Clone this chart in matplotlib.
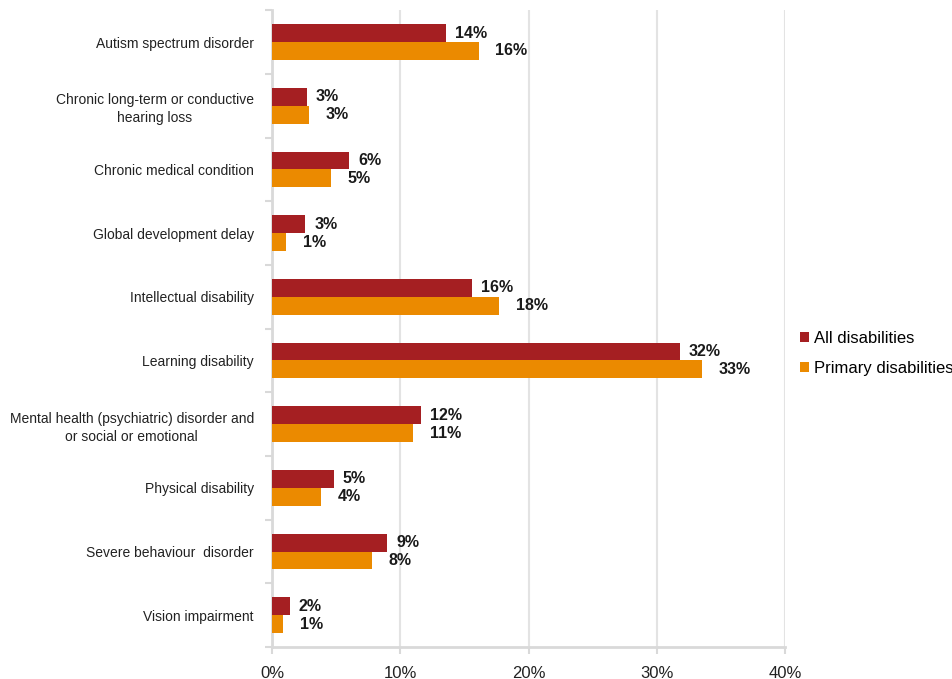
import matplotlib
matplotlib.use("Agg")
import matplotlib.pyplot as plt
import numpy as np

plt.rcParams['font.family'] = ['Liberation Sans', 'DejaVu Sans']

# categories et valeurs (%)
categories = [
    "Autism spectrum disorder",
    "Chronic long-term or conductive\nhearing loss",
    "Chronic medical condition",
    "Global development delay",
    "Intellectual disability",
    "Learning disability",
    "Mental health (psychiatric) disorder and\nor social or emotional",
    "Physical disability",
    "Severe behaviour  disorder",
    "Vision impairment",
]
all_dis = [13.6, 2.7, 6.0, 2.6, 15.6, 31.8, 11.6, 4.8, 9.0, 1.4]
primary_dis = [16.1, 2.9, 4.6, 1.1, 17.7, 33.5, 11.0, 3.8, 7.8, 0.85]
all_labels = ["14%", "3%", "6%", "3%", "16%", "32%", "12%", "5%", "9%", "2%"]
primary_labels = ["16%", "3%", "5%", "1%", "18%", "33%", "11%", "4%", "8%", "1%"]

red = "#A51F22"
orange = "#EB8A00"
grey = "#D9D9D9"

fig = plt.figure(figsize=(9.52, 6.79), dpi=100)
ax = fig.add_axes([0.2857, 0.047, 0.539, 0.938])

y = np.arange(len(categories))
h = 0.28
b1 = ax.barh(y - h / 2, all_dis, height=h, color=red, label="All disabilities", zorder=3)
b2 = ax.barh(y + h / 2, primary_dis, height=h, color=orange, label="Primary disabilities", zorder=3)

for rect, lab in zip(b1, all_labels):
    ax.annotate(lab, (rect.get_width(), rect.get_y() + rect.get_height() / 2),
                xytext=(6.5, 0), textcoords="offset points", va="center", ha="left",
                fontsize=11.5, fontweight="bold", color="#1a1a1a")
for rect, lab in zip(b2, primary_labels):
    ax.annotate(lab, (rect.get_width(), rect.get_y() + rect.get_height() / 2),
                xytext=(12, 0), textcoords="offset points", va="center", ha="left",
                fontsize=11.5, fontweight="bold", color="#1a1a1a")

ax.set_xlim(0, 40)
ax.set_ylim(9.5, -0.5)
ax.set_xticks([0, 10, 20, 30, 40])
ax.set_xticklabels(["0%", "10%", "20%", "30%", "40%"], fontsize=12, color="#222222")
ax.set_yticks(y)
ax.set_yticklabels(categories, fontsize=10, color="#222222",
                   multialignment="center", linespacing=1.35)
ax.tick_params(axis="y", length=0, pad=13)
ax.set_yticks(np.arange(-0.5, 10, 1), minor=True)
ax.tick_params(axis="y", which="minor", length=5, width=1.5, color=grey)
ax.tick_params(axis="x", length=5, width=1.5, color=grey, pad=8.5)

ax.grid(axis="x", color="#E3E3E3", linewidth=1.5, zorder=0)
for s in ["top", "right"]:
    ax.spines[s].set_visible(False)
for s in ["left", "bottom"]:
    ax.spines[s].set_color(grey)
    ax.spines[s].set_linewidth(2)

fig.legend(handles=[b1, b2], loc="center left", bbox_to_anchor=(0.8405, 0.479),
           frameon=False, fontsize=12, handlelength=0.55, handleheight=0.55,
           handletextpad=0.3, labelspacing=0.9, borderpad=0, borderaxespad=0)

fig.savefig("out.png", dpi=100)
